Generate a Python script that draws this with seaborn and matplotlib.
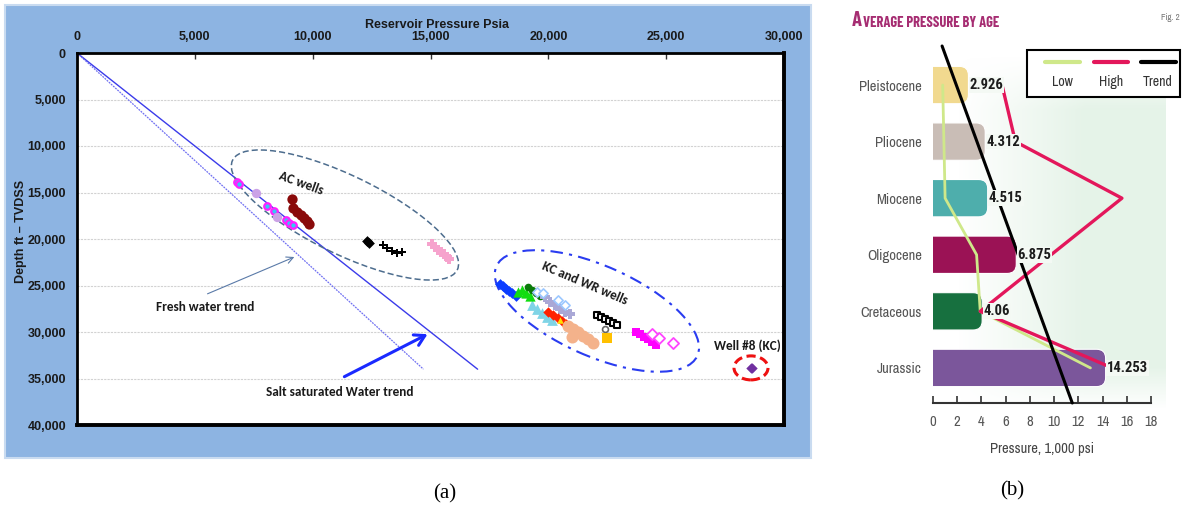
import numpy as np
import matplotlib
matplotlib.use("Agg")
import matplotlib.pyplot as plt
import seaborn as sns
from matplotlib import font_manager as fm
from matplotlib.patches import Ellipse, Rectangle, FancyBboxPatch
from matplotlib.lines import Line2D
from matplotlib.text import Annotation
from matplotlib.transforms import ScaledTranslation
from matplotlib.ticker import FuncFormatter

sns.set_theme(style="white")
plt.rcParams["font.family"] = ["Liberation Sans", "DejaVu Sans"]

# ---------------- (a) reservoir pressure vs depth ----------------
trend_depth = [0, 34000]
fresh_water_psi = [0, 14700]
salt_water_psi = [0, 17000]

# AC wells
ac_cyan_psi = [6790, 6870, 8060, 8360, 8870, 8990, 9160]
ac_cyan_depth = [13870, 14090, 16450, 16990, 17960, 18280, 18490]
ac_lavender_psi = [7600, 8500]
ac_lavender_depth = [15000, 17600]
ac_darkred_psi = [9120, 9160, 9330, 9500, 9630, 9760, 9840]
ac_darkred_depth = [15700, 16670, 17100, 17420, 17740, 18060, 18390]
ac_black_dot_psi = [12300, 12390]
ac_black_dot_depth = [20220, 20430]
ac_black_cross_psi = [12980, 13150, 13360, 13580, 13790]
ac_black_cross_depth = [20650, 20970, 21290, 21510, 21400]
ac_pink_psi = [15060, 15190, 15320, 15440, 15570, 15700, 15780]
ac_pink_depth = [20540, 20860, 21180, 21400, 21610, 21940, 22150]

# KC and WR wells
kc_blue_psi = [17950, 18070, 18200, 18330, 18460, 18630]
kc_blue_depth = [24840, 25050, 25380, 25590, 25810, 26130]
kc_green_psi = [18710, 18880, 19050, 19220]
kc_green_depth = [25690, 25480, 25800, 26120]
kc_darkgreen_psi = [19140, 19310, 19480, 19640]
kc_darkgreen_depth = [25160, 25480, 25800, 26120]
kc_teal_psi = [19310, 19520, 19730, 19940, 20150]
kc_teal_depth = [27090, 27520, 27950, 28380, 28700]
kc_grey_psi = [19860, 20070, 20280, 20490, 20710, 20920]
kc_grey_depth = [26230, 26770, 27090, 27520, 27840, 28060]
kc_skyopen_psi = [19520, 19770, 20410, 20710]
kc_skyopen_depth = [25690, 25800, 26550, 27090]
kc_red_psi = [19980, 20200, 20410, 20580, 20750]
kc_red_depth = [27840, 28170, 28490, 28810, 29130]
kc_yellow_psi = [20490, 20710]
kc_yellow_depth = [28700, 29030]
kc_peach_psi = [20830, 21050, 21260, 21470, 21680, 21890, 21000]
kc_peach_depth = [29350, 29670, 29990, 30420, 30750, 31180, 30530]
kc_blackopen_psi = [22060, 22230, 22400, 22570, 22740, 22910]
kc_blackopen_depth = [28170, 28380, 28600, 28810, 29030, 29240]
kc_greyopen_psi = [22400]
kc_greyopen_depth = [29670]
kc_orange_psi = [22490]
kc_orange_depth = [30640]
kc_magenta_psi = [23720, 23890, 24060, 24230, 24400, 24570]
kc_magenta_depth = [29990, 30210, 30530, 30750, 31070, 31390]
kc_magopen_psi = [24400, 24690, 25290]
kc_magopen_depth = [30210, 30640, 31180]
well8_psi = [28580, 28650]
well8_depth = [33860, 33860]

pressure_ticks = [0, 5000, 10000, 15000, 20000, 25000, 30000]
depth_ticks = [0, 5000, 10000, 15000, 20000, 25000, 30000, 35000, 40000]

# ---------------- (b) average pressure by age ----------------
ages = ["Pleistocene", "Pliocene", "Miocene", "Oligocene", "Cretaceous", "Jurassic"]
avg_pressure = [2.926, 4.312, 4.515, 6.875, 4.06, 14.253]
value_labels = ["2.926", "4.312", "4.515", "6.875", "4.06", "14.253"]
low_pressure = [0.8, 0.9, 1.0, 3.6, 3.9, 13.0]
high_ages = ["Pleistocene", "Pliocene", "Miocene", "Cretaceous", "Jurassic"]
high_pressure = [5.7, 6.8, 15.6, 3.9, 14.8]
trend_pressure = [0.75, 11.5]
trend_rows = [-0.69, 5.62]
bar_colors = ["#f1d98f", "#c9bdb6", "#4eaeac", "#9b1255", "#17703f", "#7b569b"]
pressure_ticks_b = [0, 2, 4, 6, 8, 10, 12, 14, 16, 18]

installed = {f.name for f in fm.fontManager.ttflist}


def families(*cands):
    found = [c for c in cands if c in installed]
    return found + ["Liberation Sans", "DejaVu Sans"]


NARROW = families("Archivo Narrow", "Roboto Condensed", "Barlow Semi Condensed")
NARROW_BOLD = families("Roboto Condensed", "Asap Condensed", "Barlow Semi Condensed")
HEAD = families("Barlow Condensed", "Archivo Narrow", "Roboto Condensed")
NOTE = families("Carlito", "Lato")
SERIF = ["Liberation Serif", "DejaVu Serif"]

W, H = 1182, 516
fig = plt.figure(figsize=(W / 100, H / 100), dpi=100)
fig.patch.set_facecolor("white")


def fx(px):
    return px / W


def fy(py):
    return 1 - py / H


# blue panel framing the depth plot
fig.add_artist(Rectangle((fx(5), fy(458)), fx(811) - fx(5), fy(5) - fy(458),
                         transform=fig.transFigure, facecolor="#8db4e2",
                         edgecolor="#c9dbf0", lw=1.5, zorder=0))

axa = fig.add_axes([fx(77), fy(425), fx(784) - fx(77), fy(53) - fy(425)])
axa.set_facecolor("white")

sns.lineplot(x=salt_water_psi, y=trend_depth, sort=False, estimator=None,
             color="#3b3bea", lw=1.0, ax=axa, zorder=2)
sns.lineplot(x=fresh_water_psi, y=trend_depth, sort=False, estimator=None,
             color="#7070f2", lw=0.9, ls=(0, (1.5, 0.8)), ax=axa, zorder=2)

groups = [
    (ac_cyan_psi, ac_cyan_depth, "o", 22, "#35c8f5", "#ff20ff", 1.6),
    (ac_lavender_psi, ac_lavender_depth, "o", 45, "#cba2e6", "#cba2e6", 0),
    (ac_darkred_psi, ac_darkred_depth, "o", 55, "#8a0a0a", "#8a0a0a", 0),
    (ac_black_dot_psi, ac_black_dot_depth, "D", 30, "#000000", "#000000", 0),
    (ac_black_cross_psi, ac_black_cross_depth, "P", 32, "#000000", "#000000", 0),
    (ac_pink_psi, ac_pink_depth, "P", 55, "#f6a3cd", "#f6a3cd", 0),
    (kc_blue_psi, kc_blue_depth, "D", 30, "#0b3cff", "#0b3cff", 0),
    (kc_teal_psi, kc_teal_depth, "^", 60, "#7fd4e6", "#7fd4e6", 0),
    (kc_green_psi, kc_green_depth, "^", 55, "#11dd11", "#11dd11", 0),
    (kc_darkgreen_psi, kc_darkgreen_depth, "o", 30, "#0a7a0a", "#0a7a0a", 0),
    (kc_grey_psi, kc_grey_depth, "P", 60, "#aaa8d6", "#aaa8d6", 0),
    (kc_skyopen_psi, kc_skyopen_depth, "D", 22, "white", "#9cc8ff", 1.2),
    (kc_red_psi, kc_red_depth, "D", 28, "#ff2200", "#ff2200", 0),
    (kc_yellow_psi, kc_yellow_depth, "^", 22, "#ffe000", "#ffe000", 0),
    (kc_peach_psi, kc_peach_depth, "o", 75, "#f4b28b", "#f4b28b", 0),
    (kc_blackopen_psi, kc_blackopen_depth, "s", 20, "white", "#000000", 1.5),
    (kc_greyopen_psi, kc_greyopen_depth, "o", 18, "white", "#666666", 1.2),
    (kc_orange_psi, kc_orange_depth, "s", 60, "#ffc000", "#ffc000", 0),
    (kc_magenta_psi, kc_magenta_depth, "s", 38, "#ff00ff", "#ff00ff", 0),
    (kc_magopen_psi, kc_magopen_depth, "D", 32, "white", "#ff44ff", 1.3),
    (well8_psi, well8_depth, "D", 28, "#7030a0", "#7030a0", 0),
]
for psi, depth, mk, size, fc, ec, lw in groups:
    sns.scatterplot(x=psi, y=depth, marker=mk, s=size, color=fc, edgecolor=ec,
                    linewidth=lw, ax=axa, zorder=4, legend=False)


def ring(ax, center, w_px, h_px, angle, **kw):
    tr = fig.dpi_scale_trans + ScaledTranslation(center[0], center[1], ax.transData)
    ax.add_patch(Ellipse((0, 0), w_px / fig.dpi, h_px / fig.dpi, angle=angle,
                         transform=tr, fill=False, **kw))


ring(axa, (11370, 17420), 250, 78, -26, edgecolor="#4d6d8e", lw=1.1,
     ls=(0, (4, 2)), zorder=3)
ring(axa, (22060, 27740), 220, 90, -24, edgecolor="#2a3cf0", lw=1.5,
     ls=(0, (6, 3, 1.5, 3)), zorder=3)
ring(axa, (28600, 33860), 34, 24, 0, edgecolor="#ee1111", lw=2.2,
     ls=(0, (3, 1.5)), zorder=3)

axa.annotate("", xy=(9330, 21820), xytext=(5430, 26010),
             arrowprops=dict(arrowstyle="->", color="#5a7aa8", lw=0.8))
axa.annotate("", xy=(14980, 30100), xytext=(11240, 34940),
             arrowprops=dict(arrowstyle="->,head_length=0.6,head_width=0.35",
                             color="#1a2aff", lw=2.2))

note_kw = dict(family=NOTE, fontweight="bold", fontsize=9.5, color="#1a1a1a",
               ha="center", va="center", zorder=5)
axa.text(9500, 13980, "AC wells", rotation=-20, **note_kw)
axa.text(21550, 24730, "KC and WR wells", rotation=-23, **note_kw)
axa.text(5430, 27300, "Fresh water trend", **note_kw)
axa.text(11160, 36440, "Salt saturated Water trend", **note_kw)
axa.text(28430, 31500, "Well #8 (KC)", **note_kw)

axa.set_xlim(0, 30000)
axa.set_ylim(40000, 0)
axa.set_xticks(pressure_ticks)
axa.set_yticks(depth_ticks)
fmt = FuncFormatter(lambda v, _: f"{int(v):,}")
axa.xaxis.set_major_formatter(fmt)
axa.yaxis.set_major_formatter(fmt)
axa.xaxis.tick_top()
axa.xaxis.set_label_position("top")
axa.tick_params(axis="x", direction="in", length=4, width=1, color="#333",
                pad=7, labelsize=9, labelcolor="#1a1a1a")
axa.tick_params(axis="y", length=0, pad=8, labelsize=9, labelcolor="#1a1a1a")
for lab in axa.get_xticklabels() + axa.get_yticklabels():
    lab.set_fontweight("bold")
axa.set_xlabel("Reservoir Pressure Psia", fontsize=9, fontweight="bold",
               color="#1a1a1a")
axa.set_ylabel("Depth ft \u2013 TVDSS", fontsize=9, fontweight="bold",
               color="#1a1a1a")
axa.xaxis.set_label_coords(0.509, 1.068)
axa.yaxis.set_label_coords(-0.071, 0.52)
axa.yaxis.grid(True, color="#d2d2d2", ls=(0, (2, 1)), lw=0.8)
axa.xaxis.grid(False)
axa.set_axisbelow(True)
for side, w in [("left", 2), ("top", 2), ("right", 2.8), ("bottom", 2.8)]:
    axa.spines[side].set_visible(True)
    axa.spines[side].set_color("black")
    axa.spines[side].set_linewidth(w)

# ---------------- (b) ----------------
bg = fig.add_axes([fx(935), fy(410), fx(1165) - fx(935), fy(55) - fy(410)], zorder=-1)
gx = np.linspace(0, 1, 240)
gy = np.linspace(0, 1, 120)
alpha = np.clip((gx[None, :] - 0.1) / 0.55, 0, 1) * np.clip(gy[:, None] / 0.12, 0, 1)
alpha = alpha * np.clip((1 - gy[:, None]) / 0.15, 0, 1)
grad = np.zeros((120, 240, 4))
grad[..., 0], grad[..., 1], grad[..., 2] = 0.90, 0.955, 0.91
grad[..., 3] = alpha[::-1]
bg.imshow(grad, aspect="auto", extent=[0, 1, 0, 1])
bg.axis("off")

axb = fig.add_axes([fx(933), fy(403), fx(1151) - fx(933), fy(46) - fy(403)])
axb.set_facecolor("none")
sns.barplot(x=avg_pressure, y=ages, hue=ages, palette=bar_colors, orient="h",
            width=0.66, saturation=1, legend=False, ax=axb, zorder=2)

# give each bar a rounded end
for bar in list(axb.patches):
    x0, y0, w, h = bar.get_x(), bar.get_y(), bar.get_width(), bar.get_height()
    fc = bar.get_facecolor()
    bar.set_visible(False)
    axb.add_patch(FancyBboxPatch((x0 - 1.0, y0), w + 1.0, h,
                                 boxstyle="round,pad=0,rounding_size=0.75",
                                 mutation_aspect=0.21, facecolor=fc,
                                 edgecolor="white", lw=0.8, zorder=2))

rows = list(range(len(ages)))
high_rows = [ages.index(a) for a in high_ages]
sns.lineplot(x=low_pressure, y=rows, sort=False, estimator=None,
             color="#cfe88a", lw=2.0, ax=axb, zorder=3)
sns.lineplot(x=high_pressure, y=high_rows, sort=False, estimator=None,
             color="#e3175b", lw=2.4, ax=axb, zorder=3)
sns.lineplot(x=trend_pressure, y=trend_rows, sort=False, estimator=None,
             color="black", lw=2.2, ax=axb, zorder=3)
for ln in axb.lines:
    ln.set_clip_on(False)

for i, (v, lab) in enumerate(zip(avg_pressure, value_labels)):
    axb.text(v + 0.1, i, lab, ha="left", va="center", family=NARROW_BOLD,
             fontweight="bold", fontsize=10.5, color="#1c1c1c", zorder=5,
             bbox=dict(facecolor="#f4f9f4", edgecolor="none", pad=0.6))

axb.set_xlim(0, 18)
axb.set_ylim(5.62, -0.69)
axb.set_xticks(pressure_ticks_b)
axb.xaxis.set_major_formatter(FuncFormatter(lambda v, _: f"{int(v)}"))
for side in ["left", "top", "right"]:
    axb.spines[side].set_visible(False)
axb.spines["bottom"].set_visible(True)
axb.spines["bottom"].set_color("#333333")
axb.spines["bottom"].set_linewidth(1.5)
axb.tick_params(axis="x", direction="in", length=5, width=1.2, color="#333",
                pad=9, labelsize=10.5, labelcolor="#555555", bottom=True)
axb.tick_params(axis="y", length=0, pad=8, labelsize=10.5, labelcolor="#555555")
for lab in axb.get_xticklabels() + axb.get_yticklabels():
    lab.set_family(NARROW)
axb.set_xlabel("Pressure, 1,000 psi", family=NARROW, fontsize=10.5,
               color="#444444", labelpad=9)
axb.set_ylabel("")

# legend box
fig.add_artist(Rectangle((fx(1027), fy(97)), fx(1180) - fx(1027), fy(50) - fy(97),
                         transform=fig.transFigure, facecolor="white",
                         edgecolor="black", lw=1.5, zorder=5))
for (x0, x1, xc), col, name in zip([(1045, 1080, 1062), (1094, 1128, 1111), (1141, 1176, 1158)],
                                   ["#cfe88a", "#e3175b", "black"],
                                   ["Low", "High", "Trend"]):
    fig.add_artist(Line2D([fx(x0), fx(x1)], [fy(62), fy(62)], transform=fig.transFigure,
                          color=col, lw=3, zorder=6))
    fig.text(fx(xc), fy(82), name, family=NARROW, fontsize=10, color="#333333",
             ha="center", va="center", zorder=6)

# small-caps title
t1 = fig.text(fx(852), fy(26), "A", family=HEAD, fontweight="bold",
              fontsize=15, color="#a62d72", ha="left", va="baseline")
fig.add_artist(Annotation(
    "VERAGE PRESSURE BY AGE", xy=(1, 0), xycoords=t1, xytext=(0.5, 0),
    textcoords="offset points", family=HEAD, fontweight="bold", fontsize=10.5,
    color="#a62d72", ha="left", va="bottom"))
fig.text(fx(1170), fy(17), "Fig. 2", family=NARROW, fontsize=6.5,
         color="#777777", ha="center", va="center")

fig.text(fx(445), fy(494), "(a)", family=SERIF, fontsize=15, ha="center",
         va="center", color="black")
fig.text(fx(1012), fy(491), "(b)", family=SERIF, fontsize=15, ha="center",
         va="center", color="black")

fig.savefig("out.png", dpi=100, facecolor="white")
